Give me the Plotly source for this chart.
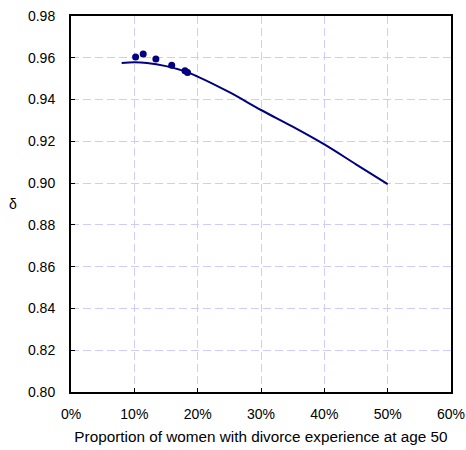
import plotly.graph_objects as go

# Observed points
obs_x = [0.102, 0.114, 0.134, 0.159, 0.180, 0.184]
obs_y = [0.9604, 0.9618, 0.9594, 0.9564, 0.9538, 0.9529]

# Fitted curve
fit_x = [0.08, 0.10, 0.12, 0.15, 0.18, 0.20, 0.25, 0.30, 0.35, 0.40, 0.45, 0.50]
fit_y = [0.9575, 0.9578, 0.9575, 0.9560, 0.9535, 0.9510, 0.9435, 0.9350, 0.9270, 0.9185, 0.9090, 0.8995]

x_ticks = [0, 0.1, 0.2, 0.3, 0.4, 0.5, 0.6]
y_ticks = [0.80, 0.82, 0.84, 0.86, 0.88, 0.90, 0.92, 0.94, 0.96, 0.98]

navy = "#000080"
grid = "#ccccff"
fam = "Liberation Sans, Arial, sans-serif"

fig = go.Figure()
fig.add_trace(go.Scatter(x=fit_x, y=fit_y, mode="lines", line=dict(color=navy, width=2, shape="spline"),
                         showlegend=False, hoverinfo="skip"))
fig.add_trace(go.Scatter(x=obs_x, y=obs_y, mode="markers", marker=dict(color=navy, size=7),
                         showlegend=False))

tickfont = dict(family=fam, size=14, color="#000000")
fig.update_layout(
    width=466, height=450,
    margin=dict(l=71, r=15, t=16, b=58),
    paper_bgcolor="white", plot_bgcolor="white",
    font=dict(family=fam, size=14, color="#000000"),
    xaxis=dict(range=[0, 0.6], tickvals=x_ticks, tickformat=".0%", automargin=False,
               showgrid=True, gridcolor=grid, griddash="8px,4px", gridwidth=1,
               showline=True, linecolor="black", linewidth=2, mirror=True,
               ticks="inside", ticklen=4, tickcolor="black", zeroline=False,
               tickfont=tickfont, ticklabelstandoff=8, ticklabeloverflow="allow",
               title=dict(text="Proportion of women with divorce experience at age 50",
                          font=dict(family=fam, size=15.3), standoff=10)),
    yaxis=dict(range=[0.80, 0.98], tickvals=y_ticks, tickformat=".2f", automargin=False,
               showgrid=True, gridcolor=grid, griddash="8px,4px", gridwidth=1,
               showline=True, linecolor="black", linewidth=2, mirror=True,
               ticks="inside", ticklen=4, tickcolor="black", zeroline=False,
               tickfont=tickfont, ticklabelstandoff=11, ticklabeloverflow="allow"),
    annotations=[dict(text="δ", xref="paper", yref="paper", x=(13 - 71) / 380, y=0.5,
                      xanchor="center", yanchor="middle", showarrow=False,
                      font=dict(family=fam, size=14))],
)
fig.write_html("out.html", config={"displayModeBar": False},
               post_script="document.body.style.margin='0';document.body.style.overflow='hidden';")
